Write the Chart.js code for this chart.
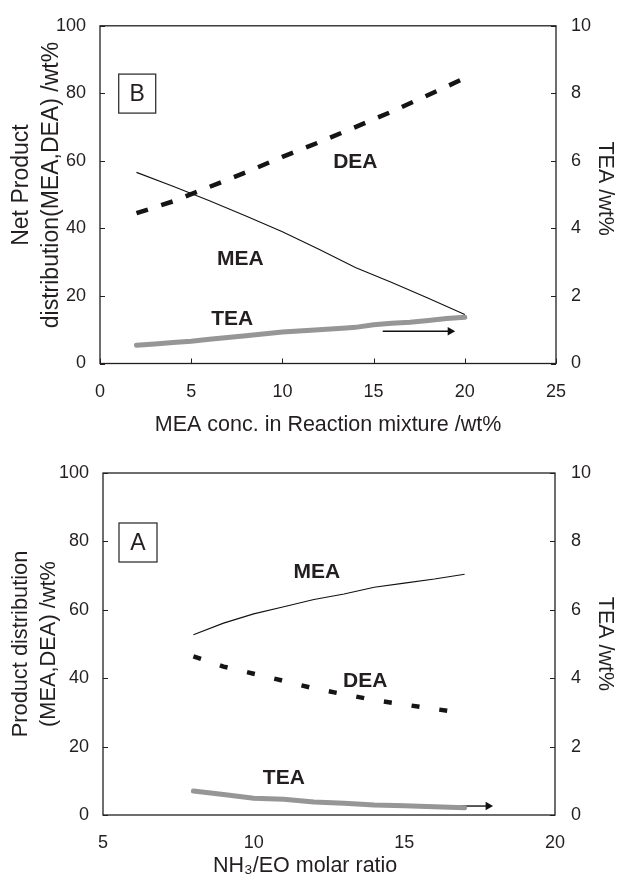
<!DOCTYPE html>
<html>
<head>
<meta charset="utf-8">
<script src="https://cdn.jsdelivr.net/npm/chart.js@4.4.1/dist/chart.umd.min.js"></script>
<style>
  html, body { margin: 0; padding: 0; background: #fff; }
  .panel { width: 618px; position: relative; }
  canvas { display: block; }
</style>
</head>
<body>
<div class="panel"><canvas id="chartB" width="618" height="440"></canvas></div>
<div class="panel"><canvas id="chartA" width="618" height="439"></canvas></div>
<script>
// Panel B: net product vs MEA concentration in the feed
const bX = [2, 4, 6, 8, 10, 12, 14, 16, 18, 20];
const bMEA = [56.6, 52.5, 48.2, 43.7, 39.0, 33.8, 28.4, 24.0, 19.3, 14.5];
const bDEA = [44.5, 48.0, 52.3, 56.6, 61.2, 65.5, 70.0, 74.6, 79.5, 84.5];
const bTeaX = [2, 3, 4, 5, 6, 8, 10, 12, 13.5, 14, 15, 16, 17, 18, 19, 20];
const bTEA = [0.54, 0.58, 0.62, 0.66, 0.72, 0.82, 0.93, 1.0, 1.05, 1.07, 1.15, 1.19, 1.22, 1.27, 1.33, 1.37];
const bArrowX = [15.5, 19.2];
const bArrowY = [0.956, 0.956];
const bNames = ['DEA', 'MEA', 'TEA'];
const bNameX = [14.0, 7.7, 7.25];
const bNameY = [59.5, 30.8, 13.2];

// Panel A: product distribution vs NH3/EO molar ratio
const aX = [8, 9, 10, 11, 12, 13, 14, 15, 16, 17];
const aMEA = [52.7, 56.1, 58.8, 60.9, 63.0, 64.6, 66.6, 67.8, 69.0, 70.4];
const aDEA = [46.4, 43.4, 41.3, 39.2, 37.0, 35.3, 33.6, 32.3, 31.0, 29.8];
const aTEA = [0.70, 0.60, 0.49, 0.46, 0.38, 0.34, 0.29, 0.27, 0.24, 0.21];
const aArrowX = [16.88, 17.78];
const aArrowY = [0.262, 0.262];
const aNames = ['MEA', 'DEA', 'TEA'];
const aNameX = [12.1, 13.7, 11.0];
const aNameY = [71.1, 39.1, 10.9];

const leftTicks = [0, 20, 40, 60, 80, 100];
const rightTicks = [0, 2, 4, 6, 8, 10];

const FONT = "'Liberation Sans', Arial, Helvetica, sans-serif";
Chart.defaults.font.family = FONT;
Chart.defaults.color = '#231f20';

const pts = (xs, ys) => xs.map((x, i) => ({ x: x, y: ys[i] }));

// frame, inward tick marks, panel letter and in-plot series names
const decorations = {
  id: 'decorations',
  afterDatasetsDraw(chart, args, opts) {
    const { ctx, chartArea: a } = chart;
    ctx.save();
    ctx.strokeStyle = '#231f20';
    ctx.lineWidth = 1.3;
    ctx.strokeRect(a.left, a.top, a.width, a.height);

    ctx.lineWidth = 1;
    opts.tickAxes.forEach(id => {
      const s = chart.scales[id];
      s.ticks.forEach(t => {
        const p = Math.round(s.getPixelForValue(t.value)) + 0.5;
        ctx.beginPath();
        if (id === 'x') { ctx.moveTo(p, a.bottom); ctx.lineTo(p, a.bottom - 5); }
        else if (id === 'y') { ctx.moveTo(a.left, p); ctx.lineTo(a.left + 5, p); }
        else { ctx.moveTo(a.right, p); ctx.lineTo(a.right - 5, p); }
        ctx.stroke();
      });
    });

    const [bx, by, bw, bh] = opts.box;
    ctx.strokeStyle = '#333';
    ctx.lineWidth = 1.3;
    ctx.strokeRect(a.left + bx, a.top + by, bw, bh);
    ctx.fillStyle = '#231f20';
    ctx.font = '23px ' + FONT;
    ctx.textAlign = 'center';
    ctx.textBaseline = 'middle';
    ctx.fillText(opts.letter, a.left + bx + bw / 2, a.top + by + bh / 2 + 1);

    ctx.font = 'bold 21px ' + FONT;
    const sx = chart.scales.x, sy = chart.scales.y;
    opts.names.forEach((n, i) => {
      ctx.fillText(n, sx.getPixelForValue(opts.nameX[i]), sy.getPixelForValue(opts.nameY[i]));
    });
    ctx.restore();
  }
};

function makeChart(id, cfg) {
  const tickFont = { size: 18 };
  const titleFont = { size: 21.5, lineHeight: 1.4 };
  const yTitleFont = { size: cfg.yTitleSize, lineHeight: 1.28 };
  return new Chart(document.getElementById(id), {
    type: 'line',
    data: {
      datasets: [
        {
          data: pts(cfg.x, cfg.mea), yAxisID: 'y',
          borderColor: '#111', borderWidth: 1.1, pointRadius: 0, tension: 0
        },
        {
          data: pts(cfg.x, cfg.dea), yAxisID: 'y',
          borderColor: '#151515', borderWidth: 4.5, borderDash: cfg.dash,
          pointRadius: 0, tension: 0
        },
        {
          data: pts(cfg.teaX, cfg.tea), yAxisID: 'y2',
          borderColor: '#969696', borderWidth: 5, borderCapStyle: 'round',
          pointRadius: 0, tension: 0
        },
        {
          data: pts(cfg.arrowX, cfg.arrowY), yAxisID: 'y2',
          borderColor: '#111', borderWidth: 1.4,
          pointRadius: [0, 5], pointStyle: 'triangle', pointRotation: 90,
          pointBackgroundColor: '#111', pointBorderColor: '#111', pointBorderWidth: 0
        }
      ]
    },
    options: {
      responsive: false,
      animation: false,
      events: [],
      layout: { padding: { top: cfg.top, left: 0, right: 0, bottom: 0 } },
      plugins: {
        legend: { display: false },
        tooltip: { enabled: false },
        decorations: {
          tickAxes: cfg.tickAxes, box: cfg.box, letter: cfg.letter,
          names: cfg.names, nameX: cfg.nameX, nameY: cfg.nameY
        }
      },
      scales: {
        x: {
          type: 'linear', min: cfg.xMin, max: cfg.xMax,
          grid: { display: false, drawTicks: false },
          border: { display: false },
          ticks: { stepSize: 5, font: tickFont, padding: cfg.xPad, maxRotation: 0 },
          title: { display: true, text: cfg.xTitle, font: titleFont, padding: { top: 0, bottom: cfg.xTitlePad } },
          afterFit: s => { s.height = cfg.xHeight; }
        },
        y: {
          position: 'left', min: 0, max: 100,
          grid: { display: false, drawTicks: false },
          border: { display: false },
          afterBuildTicks: s => { s.ticks = leftTicks.map(v => ({ value: v })); },
          ticks: { font: tickFont, padding: 14 },
          title: { display: true, text: cfg.yTitle, font: yTitleFont, padding: { top: 7, bottom: 0 } },
          afterFit: s => { s.width = cfg.left; }
        },
        y2: {
          position: 'right', min: 0, max: 10,
          grid: { display: false, drawTicks: false },
          border: { display: false },
          afterBuildTicks: s => { s.ticks = rightTicks.map(v => ({ value: v })); },
          ticks: { font: tickFont, padding: cfg.rPad },
          title: { display: true, text: cfg.rTitle, font: titleFont, padding: { top: -2, bottom: 0 } },
          afterFit: s => { s.width = 618 - cfg.right; }
        }
      }
    },
    plugins: [decorations]
  });
}

makeChart('chartB', {
  x: bX, mea: bMEA, dea: bDEA, teaX: bTeaX, tea: bTEA,
  arrowX: bArrowX, arrowY: bArrowY,
  names: bNames, nameX: bNameX, nameY: bNameY,
  dash: [12, 14], xMin: 0, xMax: 25,
  xTitle: 'MEA conc. in Reaction mixture /wt%',
  yTitle: ['   Net Product', '   distribution(MEA,DEA) /wt%'],
  yTitleSize: 23,
  rTitle: 'TEA /wt%  ',
  top: 22, left: 100, right: 556, xHeight: 76.5, xPad: 18, xTitlePad: 0, rPad: 15,
  tickAxes: ['x', 'y', 'y2'], box: [18.7, 48.3, 37, 39], letter: 'B'
});

makeChart('chartA', {
  x: aX, mea: aMEA, dea: aDEA, teaX: aX, tea: aTEA,
  arrowX: aArrowX, arrowY: aArrowY,
  names: aNames, nameX: aNameX, nameY: aNameY,
  dash: [8, 20], xMin: 5, xMax: 20,
  xTitle: 'NH₃/EO molar ratio        ',
  yTitle: ['Product distribution', '(MEA,DEA) /wt%'],
  yTitleSize: 21.8,
  rTitle: 'TEA /wt%',
  top: 33, left: 103, right: 555, xHeight: 64, xPad: 17, xTitlePad: -2, rPad: 16,
  tickAxes: ['y', 'y2'], box: [16, 50, 38, 39], letter: 'A'
});
</script>
</body>
</html>
